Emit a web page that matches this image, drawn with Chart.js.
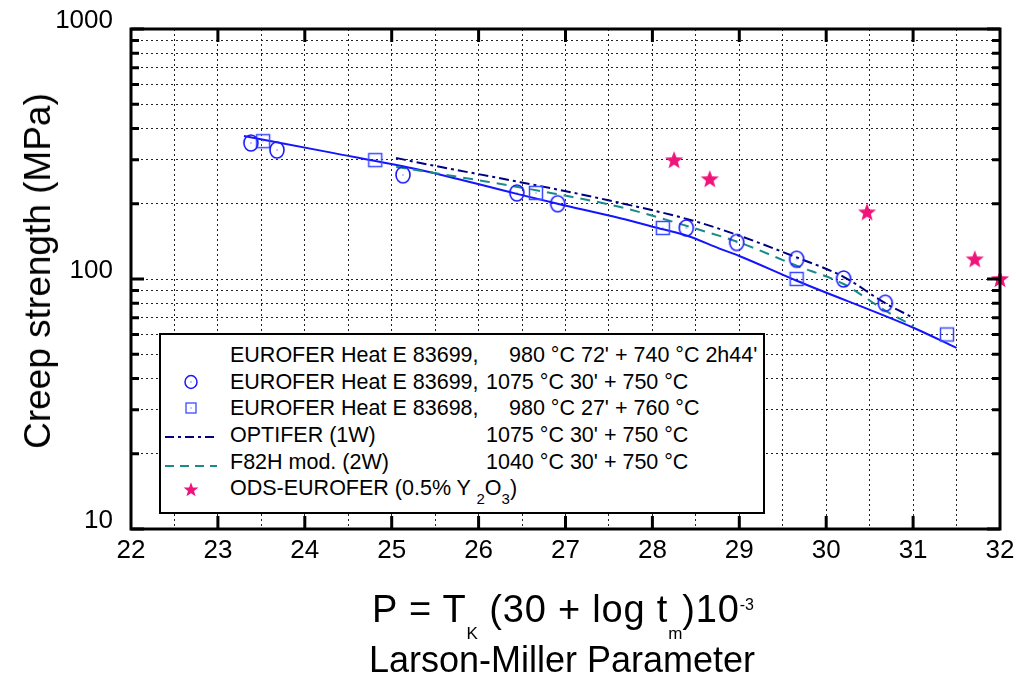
<!DOCTYPE html>
<html>
<head>
<meta charset="utf-8">
<script src="https://cdn.jsdelivr.net/npm/chart.js@4.4.1/dist/chart.umd.min.js"></script>
<style>
  body { margin: 0; background: #fff; }
  #wrap { position: relative; width: 1016px; height: 682px; font-family: "Liberation Sans", Arial, sans-serif; color: #000; }
  #ytitle { position: absolute; left: 38px; top: 271px; transform: translate(-50%, -50%) rotate(-90deg); font-size: 37px; white-space: nowrap; }
  .xt { position: absolute; left: 562px; transform: translateX(-50%); font-size: 36px; line-height: 36px; white-space: pre; }
  .sub { position: relative; top: 17px; font-size: 17px; letter-spacing: 0; }
  .sup { position: relative; top: -12px; font-size: 16px; letter-spacing: 0; }
  #legend { position: absolute; left: 159px; top: 333px; width: 606px; height: 181px; box-sizing: border-box; border: 2px solid #000; background: #fff; font-size: 21.5px; }
  .row { position: absolute; left: 0; height: 26px; line-height: 26px; width: 100%; }
  .row svg { position: absolute; left: 0; top: 0; }
  .name { position: absolute; left: 69px; white-space: pre; }
  .cond { position: absolute; white-space: pre; }
  .lsub { position: relative; top: 9px; font-size: 15px; }
</style>
</head>
<body>
<div id="wrap">
  <canvas id="chart" width="1016" height="682"></canvas>
  <div id="ytitle">Creep strength (MPa)</div>
  <div class="xt" style="top:591px; font-size:38px; letter-spacing:0.8px; left:563px">P = T<span class="sub">K</span> (30 + log t<span class="sub">m</span>)10<span class="sup">-3</span></div>
  <div class="xt" style="top:642px">Larson-Miller Parameter</div>
  <div id="legend">
    <div class="row" style="top:7px">
      <span class="name">EUROFER Heat E 83699,</span><span class="cond" style="left:348px">980 °C 72' + 740 °C 2h44'</span>
    </div>
    <div class="row" style="top:34px">
      <svg width="60" height="26"><ellipse cx="30" cy="13" rx="6" ry="6.5" fill="none" stroke="#1a1aff" stroke-width="1.5"/><rect x="29.5" y="12.5" width="1" height="1" fill="#1a1aff"/></svg>
      <span class="name">EUROFER Heat E 83699,</span><span class="cond" style="left:325px">1075 °C 30' + 750 °C</span>
    </div>
    <div class="row" style="top:60px">
      <svg width="60" height="26"><rect x="25" y="8" width="10" height="10" fill="none" stroke="#3a4aff" stroke-width="1.3"/><rect x="29.5" y="12.5" width="1" height="1" fill="#3a4aff"/></svg>
      <span class="name">EUROFER Heat E 83698,</span><span class="cond" style="left:348px">980 °C 27' + 760 °C</span>
    </div>
    <div class="row" style="top:87px">
      <svg width="60" height="26"><line x1="4" y1="15" x2="56" y2="15" stroke="#000080" stroke-width="2" stroke-dasharray="9,4,3,4"/></svg>
      <span class="name">OPTIFER (1W)</span><span class="cond" style="left:325px">1075 °C 30' + 750 °C</span>
    </div>
    <div class="row" style="top:114px">
      <svg width="60" height="26"><line x1="4" y1="17" x2="56" y2="17" stroke="#1a8a8a" stroke-width="2" stroke-dasharray="9,6"/></svg>
      <span class="name">F82H mod. (2W)</span><span class="cond" style="left:325px">1040 °C 30' + 750 °C</span>
    </div>
    <div class="row" style="top:140px">
      <svg width="60" height="26"><polygon id="legstar" fill="#f0147a"/></svg>
      <span class="name">ODS-EUROFER (0.5% Y <span class="lsub">2</span>O<span class="lsub">3</span>)</span>
    </div>
  </div>
</div>
<script>
// values (P in 10^3 units, strength in MPa)
const fitP = [23.30, 24.29, 25.33, 26.44, 26.91, 27.63, 28.12, 28.40, 28.78, 29.00, 29.66, 31.01, 31.50];
const fitS = [373, 321, 273, 219, 200, 175, 158, 149, 132, 123.6, 98.4, 63.7, 53];

const circleP = [23.38, 23.68, 25.13, 26.44, 26.91, 28.39, 28.97, 29.66, 30.20, 30.68];
const circleS = [350, 328, 261, 221, 200, 160, 140, 120, 100, 80];

const squareP = [23.52, 24.81, 26.66, 28.12, 29.66, 31.39];
const squareS = [356, 299, 221, 160, 100, 60];

const optiferP = [25.05, 25.33, 26.48, 27.48, 28.47, 29.00, 29.66, 30.20, 30.68, 31.00];
const optiferS = [305, 291, 244, 207, 171, 149, 122, 102, 80, 70];

const f82hP = [25.05, 25.33, 26.10, 26.86, 27.63, 28.55, 29.00, 29.66, 30.20, 30.68, 31.00];
const f82hS = [281, 271, 245, 220, 194, 157, 140, 113, 95.5, 74.7, 65];

const odsP = [28.25, 28.66, 30.47, 31.71, 32.00];
const odsS = [299, 251, 185, 120, 100];

const yLabels = [10, 100, 1000];
const yGrid = [];
for (let d = 10; d < 1000; d *= 10) {
  for (let m = 1; m < 10; m++) yGrid.push(m * d);
}
yGrid.push(1000);

const pts = (xs, ys) => xs.map((x, i) => ({ x: x, y: ys[i] }));

function starPath(ctx, cx, cy, ro, ri) {
  ctx.beginPath();
  for (let i = 0; i < 10; i++) {
    const r = i % 2 ? ri : ro;
    const a = -Math.PI / 2 + i * Math.PI / 5;
    ctx.lineTo(cx + r * Math.cos(a), cy + r * Math.sin(a));
  }
  ctx.closePath();
}

// point images
function circleImg() {
  const c = document.createElement('canvas');
  c.width = 20; c.height = 22;
  const g = c.getContext('2d');
  g.strokeStyle = '#1a1aff'; g.lineWidth = 1.6;
  g.beginPath(); g.ellipse(10, 11, 7, 8, 0, 0, Math.PI * 2); g.stroke();
  g.fillStyle = '#1a1aff'; g.fillRect(9.5, 10.5, 1, 1);
  return c;
}
function squareImg() {
  const c = document.createElement('canvas');
  c.width = 18; c.height = 18;
  const g = c.getContext('2d');
  g.strokeStyle = '#3a4aff'; g.lineWidth = 1.5;
  g.strokeRect(2.5, 2.5, 13, 13);
  g.fillStyle = '#3a4aff'; g.fillRect(8.5, 8.5, 1, 1);
  return c;
}
function starImg() {
  const c = document.createElement('canvas');
  c.width = 22; c.height = 22;
  const g = c.getContext('2d');
  g.fillStyle = '#f0147a';
  starPath(g, 11, 11.5, 9.5, 4);
  g.fill();
  return c;
}

// star in legend
(function () {
  const p = [];
  for (let i = 0; i < 10; i++) {
    const r = i % 2 ? 3.2 : 7.8;
    const a = -Math.PI / 2 + i * Math.PI / 5;
    p.push((30 + r * Math.cos(a)).toFixed(2) + ',' + (15 + r * Math.sin(a)).toFixed(2));
  }
  document.getElementById('legstar').setAttribute('points', p.join(' '));
})();

// frame + inward tick marks
const framePlugin = {
  id: 'frame',
  afterDatasetsDraw(chart) {
    const { ctx, chartArea: a, scales } = chart;
    ctx.save();
    ctx.strokeStyle = '#000';
    ctx.lineWidth = 3;
    ctx.beginPath();
    scales.x.ticks.forEach(t => {
      if (!Number.isInteger(t.value) || t.value === 22 || t.value === 32) return;
      const px = scales.x.getPixelForValue(t.value);
      ctx.moveTo(px, a.bottom); ctx.lineTo(px, a.bottom - 13);
      ctx.moveTo(px, a.top); ctx.lineTo(px, a.top + 13);
    });
    scales.y.ticks.forEach(t => {
      const py = scales.y.getPixelForValue(t.value);
      const len = yLabels.includes(t.value) ? 13 : 8;
      ctx.moveTo(a.left, py); ctx.lineTo(a.left + len, py);
      ctx.moveTo(a.right, py); ctx.lineTo(a.right - len, py);
    });
    ctx.stroke();
    ctx.strokeRect(a.left, a.top, a.right - a.left, a.bottom - a.top);
    ctx.restore();
  }
};

const ctx = document.getElementById('chart').getContext('2d');
new Chart(ctx, {
  type: 'scatter',
  data: {
    datasets: [
      {
        label: 'EUROFER Heat E 83699, 980 °C 72\' + 740 °C 2h44\'',
        data: pts(fitP, fitS),
        showLine: true,
        borderColor: '#1414ff',
        borderWidth: 2,
        pointRadius: 0,
        cubicInterpolationMode: 'monotone',
        order: 5
      },
      {
        label: 'OPTIFER (1W)',
        data: pts(optiferP, optiferS),
        showLine: true,
        borderColor: '#000080',
        borderWidth: 2,
        borderDash: [10, 4, 3, 4],
        pointRadius: 0,
        cubicInterpolationMode: 'monotone',
        order: 4
      },
      {
        label: 'F82H mod. (2W)',
        data: pts(f82hP, f82hS),
        showLine: true,
        borderColor: '#1a8a8a',
        borderWidth: 2,
        borderDash: [10, 7],
        pointRadius: 0,
        cubicInterpolationMode: 'monotone',
        order: 3
      },
      {
        label: 'EUROFER Heat E 83699, 1075 °C 30\' + 750 °C',
        data: pts(circleP, circleS),
        pointStyle: circleImg(),
        order: 2
      },
      {
        label: 'EUROFER Heat E 83698, 980 °C 27\' + 760 °C',
        data: pts(squareP, squareS),
        pointStyle: squareImg(),
        order: 2
      },
      {
        label: 'ODS-EUROFER (0.5% Y2O3)',
        data: pts(odsP, odsS),
        pointStyle: starImg(),
        clip: false,
        order: 1
      }
    ]
  },
  options: {
    responsive: false,
    animation: false,
    devicePixelRatio: 1,
    layout: { padding: { left: 0, right: 16, top: 29, bottom: 103 } },
    plugins: {
      legend: { display: false },
      tooltip: { enabled: false }
    },
    scales: {
      x: {
        type: 'linear',
        min: 22,
        max: 32,
        afterFit: s => { s.height = 50; s.paddingLeft = 0; s.paddingRight = 0; },
        ticks: {
          stepSize: 0.5,
          autoSkip: false,
          maxRotation: 0,
          padding: 6,
          color: '#000',
          font: { family: '"Liberation Sans", Arial, sans-serif', size: 26 },
          callback: v => Number.isInteger(v) ? String(v) : ''
        },
        grid: { color: '#222', lineWidth: 1, drawTicks: false },
        border: { display: false, dash: [2, 3] }
      },
      y: {
        type: 'logarithmic',
        min: 10,
        max: 1000,
        afterFit: s => { s.width = 131; s.paddingTop = 0; s.paddingBottom = 0; },
        afterBuildTicks: s => { s.ticks = yGrid.map(v => ({ value: v })); },
        ticks: {
          autoSkip: false,
          padding: 18,
          labelOffset: -8,
          color: '#000',
          font: { family: '"Liberation Sans", Arial, sans-serif', size: 26 },
          callback: v => yLabels.includes(v) ? String(v) : ''
        },
        grid: { color: '#222', lineWidth: 1, drawTicks: false },
        border: { display: false, dash: [2, 3] }
      }
    }
  },
  plugins: [framePlugin]
});
</script>
</body>
</html>
